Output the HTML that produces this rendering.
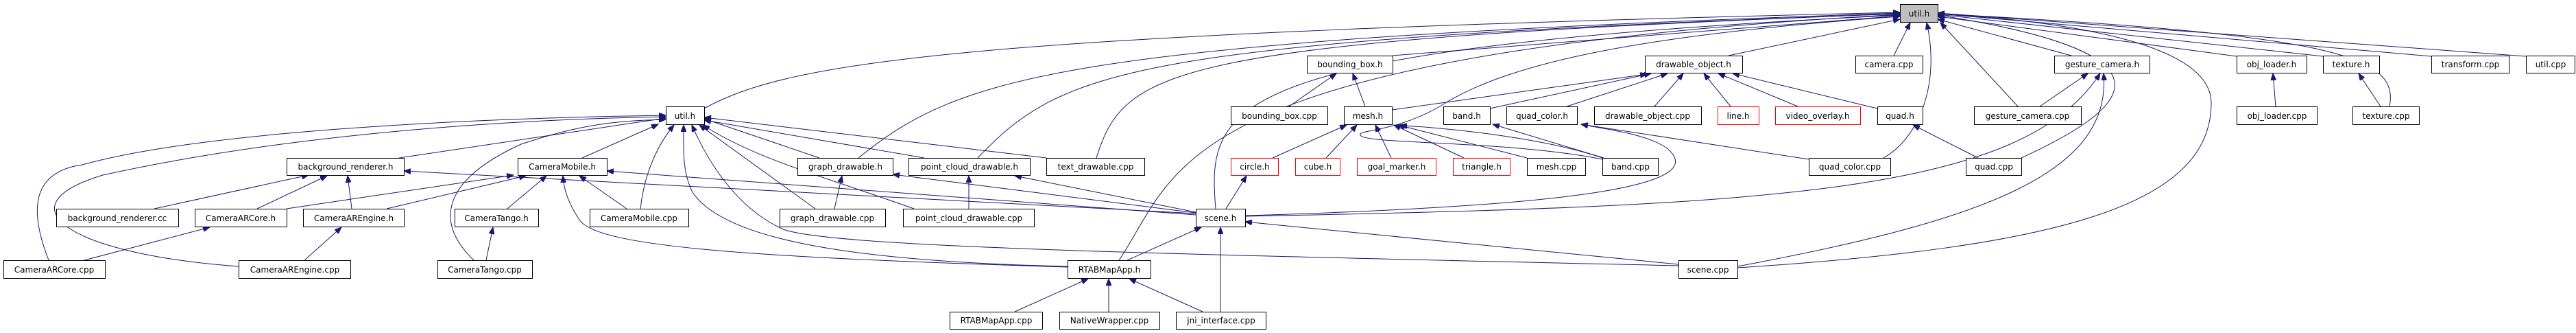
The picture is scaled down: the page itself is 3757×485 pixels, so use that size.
<!DOCTYPE html>
<html><head><meta charset="utf-8"><style>
html,body{margin:0;padding:0;background:#fff;}
svg{display:block;}
text{font-family:"DejaVu Sans","Liberation Sans",sans-serif;font-size:12px;fill:#000;text-anchor:middle;}
.n{fill:#fff;stroke:#000;stroke-width:1;}
.r{fill:#fff;stroke:#ff0000;stroke-width:1;}
.e{fill:none;stroke:#191970;stroke-width:1;marker-end:url(#a);}
</style></head><body>
<svg width="3757" height="485" viewBox="0 0 3757 485" xmlns="http://www.w3.org/2000/svg">
<defs><marker id="a" markerUnits="userSpaceOnUse" markerWidth="11" markerHeight="8" refX="10" refY="4" orient="auto"><path d="M0,0 L10,4 L0,8 z" fill="#191970" stroke="#191970"/></marker></defs>
<g>
<!-- edges to top util.h -->
<path class="e" d="M1027,158 C1150,90 1400,50 2771,18"/>
<path class="e" d="M1252,230 C1400,110 1550,60 2771,19"/>
<path class="e" d="M1426,230 C1550,100 1650,60 2771,20"/>
<path class="e" d="M1599,230 C1640,100 1700,60 2771,20"/>
<path class="e" d="M1632,379 C1720,250 1700,80 2771,21"/>
<path class="e" d="M1773,304 C1760,150 1780,70 2771,22"/>
<path class="e" d="M2031,81 L2771,23"/>
<path class="e" d="M2337,232 C2200,205 2000,210 1985,198 C1975,188 2030,195 2100,155 C2200,90 2400,50 2771,24"/>
<path class="e" d="M2521,81 L2771,28"/>
<path class="e" d="M2762,81 L2786,33"/>
<path class="e" d="M2747,230 C2800,200 2830,120 2810,33"/>
<path class="e" d="M2943,155 L2830,33"/>
<path class="e" d="M3021,81 L2826,28"/>
<path class="e" d="M2948,230 C3100,160 3200,80 2826,22"/>
<path class="e" d="M2534,390 C3000,360 3225,300 3225,150 C3225,60 3000,30 2826,20"/>
<path class="e" d="M3262,82 L2826,24"/>
<path class="e" d="M3388,82 L2826,21"/>
<path class="e" d="M3485,155 C3500,80 3400,50 2826,20"/>
<path class="e" d="M3546,82 L2826,20"/>
<path class="e" d="M3684,82 L2826,19"/>
<path class="e" d="M1816,315 C2600,300 2950,280 3063,107"/>
<path class="e" d="M2534,388 C2900,320 3080,250 3068,107"/>
<path class="e" d="M1816,314 C2300,300 2500,270 2430,215 C2400,195 2350,190 2306,181"/>
<!-- util.h (2) -->
<path class="e" d="M71,379 C40,300 50,250 120,240 C300,190 700,172 971,168"/>
<path class="e" d="M348,388 C100,370 0,300 150,255 C400,200 700,175 971,170"/>
<path class="e" d="M582,230 L971,172"/>
<path class="e" d="M691,379 C630,320 650,260 760,210 C850,180 900,176 971,174"/>
<path class="e" d="M849,230 L960,181"/>
<path class="e" d="M934,304 C940,250 960,210 983,182"/>
<path class="e" d="M1557,388 C1200,380 1050,340 1010,280 C995,250 997,220 997,182"/>
<path class="e" d="M2448,387 C1700,370 1200,360 1140,333 C1070,300 1030,230 1009,182"/>
<path class="e" d="M1195,230 L1027,173"/>
<path class="e" d="M1348,230 L1027,175"/>
<path class="e" d="M1526,230 L1027,171"/>
<path class="e" d="M1189,304 L1020,182"/>
<path class="e" d="M1333,304 C1180,250 1100,230 1025,182"/>
<!-- CameraMobile.h -->
<path class="e" d="M418,304 L749,255"/>
<path class="e" d="M564,304 L767,256"/>
<path class="e" d="M740,304 L797,256"/>
<path class="e" d="M914,304 L845,256"/>
<path class="e" d="M1744,313 L885,249"/>
<path class="e" d="M1557,389 C1100,375 870,360 845,320 C825,290 822,270 821,256"/>
<!-- background_renderer.h -->
<path class="e" d="M225,304 L450,255"/>
<path class="e" d="M375,304 L477,256"/>
<path class="e" d="M513,304 L507,256"/>
<path class="e" d="M1744,311 L589,249"/>
<path class="e" d="M123,379 L306,331"/>
<path class="e" d="M444,379 L498,331"/>
<path class="e" d="M709,379 L719,331"/>
<path class="e" d="M1217,304 L1228,256"/>
<path class="e" d="M1744,310 L1302,254"/>
<path class="e" d="M1413,304 L1413,256"/>
<path class="e" d="M1744,309 L1480,256"/>
<path class="e" d="M1788,304 L1818,256"/>
<path class="e" d="M1644,379 L1752,331"/>
<path class="e" d="M1780,454 L1780,331"/>
<path class="e" d="M2448,385 L1816,323"/>
<path class="e" d="M1480,454 L1587,406"/>
<path class="e" d="M1617,454 L1617,406"/>
<path class="e" d="M1754,454 L1647,406"/>
<path class="e" d="M1880,155 L1949,107"/>
<path class="e" d="M1991,155 L1973,107"/>
<path class="e" d="M2030,160 L2402,108"/>
<path class="e" d="M2173,158 L2408,107"/>
<path class="e" d="M2285,155 L2432,107"/>
<path class="e" d="M2413,155 L2455,107"/>
<path class="e" d="M2524,155 L2485,107"/>
<path class="e" d="M2622,155 L2506,107"/>
<path class="e" d="M2738,158 L2527,107"/>
<path class="e" d="M1856,230 L1964,182"/>
<path class="e" d="M1934,230 L1979,182"/>
<path class="e" d="M2029,230 L2006,182"/>
<path class="e" d="M2135,230 L2033,182"/>
<path class="e" d="M2227,230 L2039,182"/>
<path class="e" d="M2337,230 C2250,200 2100,185 2042,183"/>
<path class="e" d="M2339,230 L2177,181"/>
<path class="e" d="M2638,232 L2306,181"/>
<path class="e" d="M2885,230 L2790,182"/>
<path class="e" d="M2975,155 L3045,107"/>
<path class="e" d="M3319,155 L3315,107"/>
<path class="e" d="M3472,155 L3440,107"/>
</g>
<g>
<rect x="2771.5" y="6.5" width="55" height="26" fill="#bfbfbf" stroke="#000"/><text x="2799" y="24">util.h</text>
<!-- row1 -->
<rect class="n" x="1906.5" y="81.5" width="125" height="25"/><text x="1969" y="98">bounding_box.h</text>
<rect class="n" x="2399.5" y="81.5" width="142" height="25"/><text x="2470" y="98">drawable_object.h</text>
<rect class="n" x="2706.5" y="81.5" width="98" height="25"/><text x="2755" y="98">camera.cpp</text>
<rect class="n" x="2996.5" y="81.5" width="139" height="25"/><text x="3066" y="98">gesture_camera.h</text>
<rect class="n" x="3262.5" y="81.5" width="102" height="25"/><text x="3313" y="98">obj_loader.h</text>
<rect class="n" x="3388.5" y="81.5" width="82" height="25"/><text x="3429" y="98">texture.h</text>
<rect class="n" x="3546.5" y="81.5" width="113" height="25"/><text x="3603" y="98">transform.cpp</text>
<rect class="n" x="3684.5" y="81.5" width="71" height="25"/><text x="3720" y="98">util.cpp</text>
<!-- row2 -->
<rect class="n" x="971.5" y="155.5" width="56" height="26"/><text x="999" y="173">util.h</text>
<rect class="n" x="1795.5" y="155.5" width="141" height="26"/><text x="1866" y="173">bounding_box.cpp</text>
<rect class="n" x="1960.5" y="155.5" width="70" height="26"/><text x="1995" y="173">mesh.h</text>
<rect class="n" x="2105.5" y="155.5" width="68" height="26"/><text x="2139" y="173">band.h</text>
<rect class="n" x="2197.5" y="155.5" width="103" height="26"/><text x="2249" y="173">quad_color.h</text>
<rect class="n" x="2325.5" y="155.5" width="156" height="26"/><text x="2403" y="173">drawable_object.cpp</text>
<rect class="r" x="2505.5" y="155.5" width="60" height="26"/><text x="2535" y="173">line.h</text>
<rect class="r" x="2589.5" y="155.5" width="124" height="26"/><text x="2651" y="173">video_overlay.h</text>
<rect class="n" x="2738.5" y="155.5" width="66" height="26"/><text x="2771" y="173">quad.h</text>
<rect class="n" x="2879.5" y="155.5" width="156" height="26"/><text x="2957" y="173">gesture_camera.cpp</text>
<rect class="n" x="3262.5" y="155.5" width="117" height="26"/><text x="3321" y="173">obj_loader.cpp</text>
<rect class="n" x="3431.5" y="155.5" width="97" height="26"/><text x="3480" y="173">texture.cpp</text>
<!-- row3 -->
<rect class="n" x="418.5" y="230.5" width="171" height="25"/><text x="504" y="247">background_renderer.h</text>
<rect class="n" x="755.5" y="230.5" width="130" height="25"/><text x="820" y="247">CameraMobile.h</text>
<rect class="n" x="1163.5" y="230.5" width="139" height="25"/><text x="1233" y="247">graph_drawable.h</text>
<rect class="n" x="1325.5" y="230.5" width="177" height="25"/><text x="1414" y="247">point_cloud_drawable.h</text>
<rect class="n" x="1526.5" y="230.5" width="143" height="25"/><text x="1598" y="247">text_drawable.cpp</text>
<rect class="r" x="1795.5" y="230.5" width="69" height="25"/><text x="1830" y="247">circle.h</text>
<rect class="r" x="1889.5" y="230.5" width="65" height="25"/><text x="1922" y="247">cube.h</text>
<rect class="r" x="1979.5" y="230.5" width="115" height="25"/><text x="2037" y="247">goal_marker.h</text>
<rect class="r" x="2119.5" y="230.5" width="83" height="25"/><text x="2161" y="247">triangle.h</text>
<rect class="n" x="2227.5" y="230.5" width="85" height="25"/><text x="2270" y="247">mesh.cpp</text>
<rect class="n" x="2337.5" y="230.5" width="81" height="25"/><text x="2378" y="247">band.cpp</text>
<rect class="n" x="2638.5" y="230.5" width="119" height="25"/><text x="2698" y="247">quad_color.cpp</text>
<rect class="n" x="2867.5" y="230.5" width="81" height="25"/><text x="2908" y="247">quad.cpp</text>
<!-- row4 -->
<rect class="n" x="82.5" y="304.5" width="178" height="26"/><text x="171" y="322">background_renderer.cc</text>
<rect class="n" x="284.5" y="304.5" width="134" height="26"/><text x="351" y="322">CameraARCore.h</text>
<rect class="n" x="442.5" y="304.5" width="147" height="26"/><text x="516" y="322">CameraAREngine.h</text>
<rect class="n" x="663.5" y="304.5" width="122" height="26"/><text x="724" y="322">CameraTango.h</text>
<rect class="n" x="860.5" y="304.5" width="144" height="26"/><text x="932" y="322">CameraMobile.cpp</text>
<rect class="n" x="1137.5" y="304.5" width="154" height="26"/><text x="1214" y="322">graph_drawable.cpp</text>
<rect class="n" x="1317.5" y="304.5" width="191" height="26"/><text x="1413" y="322">point_cloud_drawable.cpp</text>
<rect class="n" x="1744.5" y="304.5" width="72" height="26"/><text x="1780" y="322">scene.h</text>
<!-- row5 -->
<rect class="n" x="5.5" y="379.5" width="148" height="26"/><text x="79" y="397">CameraARCore.cpp</text>
<rect class="n" x="348.5" y="379.5" width="163" height="26"/><text x="430" y="397">CameraAREngine.cpp</text>
<rect class="n" x="638.5" y="379.5" width="138" height="26"/><text x="707" y="397">CameraTango.cpp</text>
<rect class="n" x="1557.5" y="379.5" width="121" height="26"/><text x="1618" y="397">RTABMapApp.h</text>
<rect class="n" x="2448.5" y="379.5" width="86" height="26"/><text x="2491" y="397">scene.cpp</text>
<!-- row6 -->
<rect class="n" x="1385.5" y="454.5" width="135" height="25"/><text x="1453" y="471">RTABMapApp.cpp</text>
<rect class="n" x="1545.5" y="454.5" width="146" height="25"/><text x="1618" y="471">NativeWrapper.cpp</text>
<rect class="n" x="1715.5" y="454.5" width="131" height="25"/><text x="1781" y="471">jni_interface.cpp</text>
</g>
</svg>
</body></html>
